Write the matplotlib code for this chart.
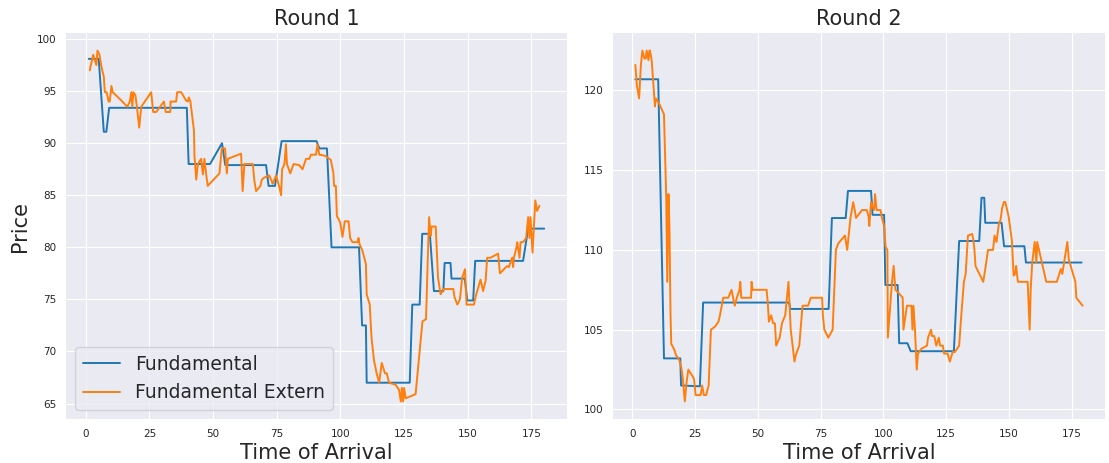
import matplotlib
matplotlib.use("Agg")
import matplotlib.pyplot as plt

# Round 1 -- fundamental (step-like) and extern estimate
r1_fund_t = [1.2, 5.1, 7.1, 8.1, 9.2, 39.7, 40.4, 48.8, 53.5, 54.8, 70.8, 71.8,
             74.3, 76.9, 90.6, 91.7, 94.7, 96.5, 107.3, 108.5, 110.0, 110.3,
             127.2, 128.2, 131.1, 132.1, 135.1, 136.7, 140.4, 140.9, 143.2,
             143.6, 148.8, 149.8, 152.1, 152.9, 171.7, 173.7, 180.0]
r1_fund = [98.1, 98.1, 91.1, 91.1, 93.4, 93.4, 88.0, 88.0, 90.0, 87.9, 87.9, 85.9,
           85.9, 90.2, 90.2, 89.5, 89.5, 80.0, 80.0, 72.5, 72.5, 67.0,
           67.0, 74.5, 74.5, 81.3, 81.3, 75.8, 75.8, 78.5, 78.5,
           77.0, 77.0, 74.9, 74.9, 78.7, 78.7, 81.8, 81.8]

r1_ext_t = [1.6, 2.9, 4.2, 4.6, 5.4, 6.2, 7.1, 7.5, 8.2, 9.0, 9.4, 10.1, 10.6, 14.0,
            16.3, 17.3, 17.9, 18.3, 18.7, 19.5, 20.1, 21.0, 21.8, 25.7, 26.5, 27.7,
            30.7, 31.4, 33.2, 33.3, 35.5, 35.9, 37.5, 39.4, 40.1, 40.5, 41.1, 41.7,
            42.5, 42.7, 43.4, 44.0, 45.3, 46.0, 46.6, 47.3, 47.9, 52.5, 53.4, 54.7,
            55.4, 55.8, 61.0, 61.6, 62.3, 65.6, 66.2, 66.9, 68.6, 69.1, 70.1, 72.1,
            73.4, 74.7, 76.0, 76.7, 77.1, 78.0, 78.6, 79.0, 80.3, 81.6, 83.8, 85.1,
            86.5, 87.8, 88.4, 90.4, 91.0, 91.7, 93.9, 95.6, 96.2, 97.2, 97.5, 98.2,
            98.6, 99.9, 100.8, 101.7, 103.2, 103.8, 104.7, 106.7, 107.1, 107.5,
            108.6, 110.0, 110.3, 111.5, 112.2, 113.2, 114.3, 115.2, 116.2, 117.5,
            118.2, 119.1, 121.7, 123.0, 123.7, 124.1, 124.6, 125.0, 125.6, 129.5,
            132.2, 133.6, 134.1, 134.8, 135.4, 135.8, 137.4, 138.3, 139.3, 140.6,
            144.3, 144.8, 145.9, 146.9, 147.8, 148.9, 149.5, 152.4, 153.3, 154.3,
            155.0, 156.0, 157.0, 157.6, 158.9, 161.9, 162.6, 165.4, 166.1, 167.4,
            167.8, 168.1, 169.1, 169.4, 170.3, 170.7, 171.7, 172.9, 173.7, 174.2,
            174.6, 175.4, 176.5, 177.2, 178.1]
r1_ext = [97.0, 98.5, 97.5, 98.9, 98.5, 97.3, 96.4, 94.9, 94.9, 94.0, 94.0, 95.5, 94.9, 94.1,
          93.5, 94.0, 94.9, 93.5, 94.9, 94.6, 93.5, 91.5, 93.5, 94.9, 93.0, 93.0,
          94.0, 93.0, 93.0, 94.0, 94.0, 94.9, 94.9, 94.1, 94.0, 94.4, 94.0, 92.8,
          91.2, 88.7, 86.5, 88.0, 88.5, 87.0, 88.5, 87.0, 85.9, 87.1, 89.5, 89.5,
          87.1, 88.5, 89.0, 85.4, 88.0, 88.0, 86.4, 85.4, 85.9, 86.5, 86.7, 86.9,
          86.1, 86.9, 85.8, 85.0, 87.5, 88.0, 89.9, 88.0, 87.1, 88.0, 87.9, 87.5,
          88.5, 88.5, 88.9, 88.9, 89.9, 88.9, 88.8, 88.5, 88.4, 87.2, 85.9, 85.9,
          83.0, 82.4, 81.0, 82.5, 82.5, 80.9, 80.5, 80.5, 80.9, 80.3,
          79.7, 78.4, 75.5, 74.5, 71.3, 69.1, 67.8, 67.0, 68.9, 67.9,
          67.9, 67.0, 66.8, 66.3, 65.2, 66.5, 65.2, 66.5, 65.5, 65.9,
          72.9, 73.1, 77.4, 82.9, 81.1, 82.0, 82.0, 77.1, 75.5, 76.0,
          76.0, 75.2, 74.5, 75.0, 77.1, 77.9, 74.5, 74.5, 75.5, 76.3,
          76.9, 75.8, 76.8, 79.0, 79.0, 79.4, 77.5, 78.2, 78.1, 79.0,
          78.1, 79.0, 80.0, 80.5, 79.0, 80.5, 80.5, 80.9, 82.9, 80.9,
          82.9, 79.5, 84.5, 83.5, 84.0]

# Round 2
r2_fund_t = [1.2, 10.3, 12.6, 19.1, 19.4, 26.9, 28.2, 62.5, 62.9, 78.2, 79.5, 85.0,
             85.9, 95.1, 95.7, 100.3, 100.8, 105.7, 106.3, 109.6, 110.9, 128.1,
             130.2, 138.2, 139.1, 140.2, 140.6, 147.1, 148.1, 156.2, 156.8, 179.0]
r2_fund = [120.7, 120.7, 103.2, 103.2, 101.5, 101.45, 106.7, 106.7, 106.3, 106.3, 112.0, 112.0,
           113.7, 113.7, 112.2, 112.2, 107.8, 107.8, 104.15, 104.15, 103.65, 103.65,
           110.56, 110.56, 113.27, 113.27, 111.7, 111.7, 110.23, 110.23, 109.21, 109.21]

r2_ext_t = [1.2, 1.8, 2.7, 3.4, 4.0, 4.8, 5.3, 5.7, 6.4, 6.8, 7.0, 7.7, 8.1, 8.7, 9.0,
            9.4, 10.9, 12.6, 13.5, 13.9, 14.4, 14.8, 15.2, 15.5, 15.9, 16.8, 17.4,
            18.7, 19.4, 20.0, 20.9, 21.6, 22.3, 23.9, 24.6, 25.2, 27.2, 27.8, 28.5,
            29.4, 30.4, 31.3, 33.0, 34.3, 34.9, 36.2, 38.2, 39.5, 40.8, 41.8, 42.7,
            43.0, 43.4, 47.3, 47.5, 47.9, 53.5, 54.0, 54.4, 55.3, 56.1, 56.8, 57.3,
            58.7, 59.6, 60.9, 62.2, 63.1, 64.6, 65.1, 66.5, 67.8, 70.0, 71.1, 75.6,
            75.9, 76.5, 78.1, 79.8, 81.1, 82.0, 84.7, 85.6, 86.9, 88.0, 88.6, 89.1,
            91.5, 93.4, 94.1, 94.4, 95.1, 95.7, 96.3, 96.7, 97.3, 98.9, 99.3, 100.3,
            100.9, 101.6, 101.8, 102.9, 103.4, 104.1, 104.8, 106.1, 107.7, 108.0,
            109.4, 111.2, 111.6, 112.0, 112.6, 113.3, 113.8, 115.1, 117.4, 117.8,
            119.0, 119.4, 120.3, 121.1, 122.1, 122.6, 123.7, 124.2, 125.6, 126.5,
            127.6, 128.5, 130.2, 130.7, 131.1, 132.1, 132.8, 133.7, 135.4, 135.9,
            136.3, 136.7, 139.8, 140.6, 141.7, 143.7, 144.3, 145.1, 146.0, 146.7,
            147.3, 148.0, 148.6, 149.9, 151.2, 151.9, 152.5, 152.9, 153.6, 157.5,
            158.3, 158.7, 159.3, 160.3, 161.0, 161.3, 162.6, 164.9, 169.1, 170.7,
            171.3, 172.4, 173.3, 173.9, 176.5, 176.9, 179.4]
r2_ext = [121.6, 120.3, 119.5, 121.6, 122.5, 122.0, 122.0, 122.5, 121.9, 122.5, 122.5, 121.9, 121.0, 119.6, 119.0,
          119.5, 119.1, 118.5, 113.3, 108.0, 113.5, 111.3, 106.0, 104.1, 104.0, 103.7, 103.4,
          103.1, 102.7, 102.1, 100.5, 101.7, 102.5, 102.1, 101.9, 100.9, 100.9, 101.5, 100.9,
          100.9, 101.5, 105.0, 105.2, 105.5, 105.9, 107.0, 107.0, 107.5, 106.5, 107.1, 107.5,
          108.0, 107.0, 107.0, 108.0, 107.5, 107.5, 106.6, 105.5, 105.9, 105.4, 105.4, 104.0,
          104.5, 105.4, 105.9, 108.0, 105.0, 103.0, 103.4, 104.0, 106.5, 106.5, 107.0, 107.0,
          105.9, 105.0, 104.5, 105.0, 110.0, 110.4, 110.9, 110.0, 112.0, 113.0, 112.5, 112.0,
          112.5, 112.5, 112.1, 111.5, 113.0, 112.7, 112.5, 113.5, 112.5, 112.5, 112.1, 111.5,
          110.2, 110.0, 104.5, 106.9, 107.9, 109.0, 107.5, 107.3, 107.0, 105.0,
          106.5, 106.5, 105.0, 106.5, 105.0, 102.5, 103.5, 103.8, 104.0, 104.5,
          105.0, 104.6, 104.6, 104.0, 104.5, 104.0, 104.0, 103.5, 103.5, 103.0,
          103.6, 103.6, 104.0, 105.1, 106.0, 108.0, 108.5, 110.9, 111.0, 110.6,
          110.0, 109.0, 108.0, 108.8, 110.0, 110.0, 110.9, 110.5, 111.6, 111.9,
          112.6, 113.0, 113.0, 112.1, 110.6, 108.4, 108.5, 109.0, 108.0, 108.0,
          105.0, 107.5, 109.2, 110.5, 109.2, 110.5, 109.6, 108.0, 108.0, 108.8,
          108.5, 109.6, 110.5, 109.4, 108.0, 107.0, 106.5]

plt.style.use('seaborn-v0_8-darkgrid')
plt.rcParams['font.family'] = ['DejaVu Sans']
blue = '#1f77b4'
orange = '#ff7f0e'

fig = plt.figure(figsize=(11.09, 4.63), dpi=100)
ax1 = fig.add_axes([66 / 1109, 44 / 463, 501 / 1109, 386 / 463])
ax2 = fig.add_axes([613 / 1109, 44 / 463, 492 / 1109, 386 / 463])

ax1.plot(r1_fund_t, r1_fund, color=blue, lw=1.4, label='Fundamental')
ax1.plot(r1_ext_t, r1_ext, color=orange, lw=1.4, label='Fundamental Extern')
ax2.plot(r2_fund_t, r2_fund, color=blue, lw=1.4)
ax2.plot(r2_ext_t, r2_ext, color=orange, lw=1.4)

ax1.set_title('Round 1', fontsize=15)
ax2.set_title('Round 2', fontsize=15)
ax1.set_ylabel('Price', fontsize=15, labelpad=5)
for ax in (ax1, ax2):
    ax.set_xlabel('Time of Arrival', fontsize=15, labelpad=3)
    ax.set_xticks(range(0, 176, 25))
    ax.tick_params(labelsize=7.5, pad=7, colors='#262626')
ax1.set_yticks(range(65, 101, 5))
ax2.set_yticks(range(100, 121, 5))

ax1.legend(loc='lower left', fontsize=13.5, frameon=True, facecolor='#EAEAF2',
           edgecolor='#CCCCCC', framealpha=0.8)

fig.savefig('out.png', dpi=100)
